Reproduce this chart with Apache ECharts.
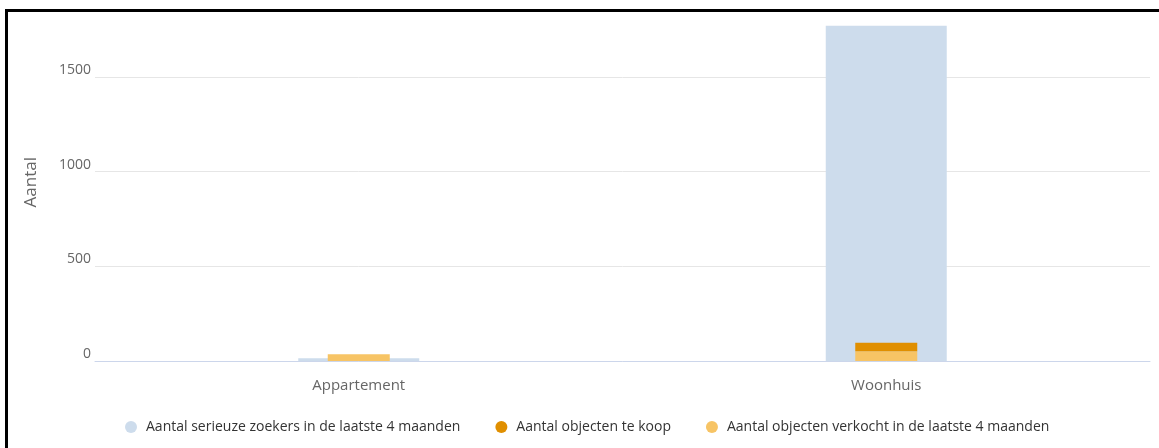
<!DOCTYPE html>
<html>
<head>
<meta charset="utf-8">
<script src="https://cdn.jsdelivr.net/npm/echarts@6/dist/echarts.min.js"></script>
<style>
html,body{margin:0;padding:0;overflow:hidden;background:#fff;}
#chart{position:absolute;left:0;top:0;width:1159px;height:448px;}
#frame{position:absolute;left:5px;top:9px;width:1200px;height:500px;border:3px solid #000;box-sizing:border-box;pointer-events:none;}
</style>
</head>
<body>
<div id="chart"></div>
<div id="frame"></div>
<script>
const categories = ['Appartement', 'Woonhuis'];
const seriesNames = ['Aantal serieuze zoekers in de laatste 4 maanden', 'Aantal objecten te koop', 'Aantal objecten verkocht in de laatste 4 maanden'];
const zoekers = [15, 1770];
const teKoop = [0, 45];
const verkocht = [35, 51];
const yTicks = [0, 500, 1000, 1500];
const yTitle = 'Aantal';

const colors = ['#cddcec', '#e08f00', '#f7c465'];
const font = '"Open Sans", sans-serif';

const chart = echarts.init(document.getElementById('chart'));
chart.setOption({
  animation: false,
  textStyle: {fontFamily: font},
  grid: {left: 95, right: 9, top: 20, bottom: 87, containLabel: false},
  graphic: [{type: 'text', left: 23, top: 157, rotation: Math.PI / 2,
    style: {text: yTitle, fill: '#666', font: '17px ' + font}}],
  xAxis: [
    {type: 'category', data: categories,
     axisLine: {lineStyle: {color: '#ccd6eb', width: 1}},
     axisTick: {alignWithLabel: true, length: 9, lineStyle: {color: '#ccd6eb'}},
     axisLabel: {color: '#666', fontSize: 15, margin: 17, fontFamily: font}},
    {type: 'category', data: categories, show: false}
  ],
  yAxis: {
    type: 'value', min: 0, max: 1800, interval: 500,
    axisLine: {show: false}, axisTick: {show: false},
    axisLabel: {color: '#666', fontSize: 14, margin: 4, verticalAlign: 'bottom', padding: [0,0,0,0], fontFamily: font, showMaxLabel: false,
      formatter: v => yTicks.indexOf(v) >= 0 ? String(v) : ''},
    splitLine: {lineStyle: {color: ['#e6e6e6','#e6e6e6','#e6e6e6','#e6e6e6','rgba(0,0,0,0)'], width: 1}}
  },
  legend: {
    bottom: 9, left: 120, icon: 'circle', itemWidth: 12, itemHeight: 12, itemGap: 35,
    textStyle: {color: '#333', fontSize: 14, fontFamily: font, padding: [0,0,0,4]},
    data: seriesNames
  },
  series: [
    {name: seriesNames[0], type: 'bar', xAxisIndex: 0, data: zoekers, barWidth: 121,
     itemStyle: {color: colors[0]}, z: 1},
    {name: seriesNames[2], type: 'bar', xAxisIndex: 1, stack: 'o', data: verkocht, barWidth: 62,
     itemStyle: {color: colors[2]}, z: 3},
    {name: seriesNames[1], type: 'bar', xAxisIndex: 1, stack: 'o', data: teKoop, barWidth: 62,
     itemStyle: {color: colors[1]}, z: 3}
  ]
});
</script>
</body>
</html>
